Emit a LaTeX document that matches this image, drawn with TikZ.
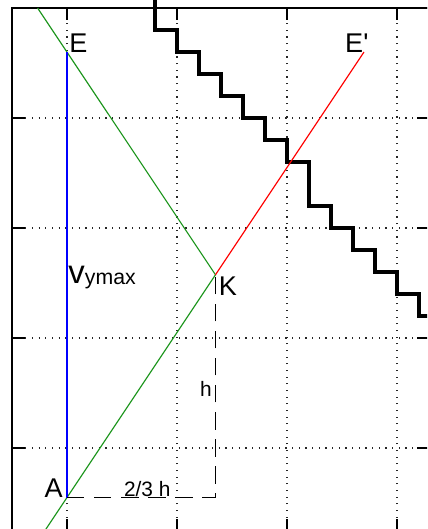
\documentclass[tikz,border=0pt]{standalone}
\usepackage{fontspec}
\setmainfont{Liberation Sans}
\definecolor{mygreen}{RGB}{30,150,30}
\begin{document}
\begin{tikzpicture}[x=2cm,y=2cm,line join=miter,
	gridline/.style={black!85,line width=0.6pt,dash pattern=on 0.6pt off 2.85pt},
	stairs/.style={line width=1.6pt},
	lbl/.style={inner sep=0pt,font=\fontsize{14}{16}\selectfont},
	smalllbl/.style={inner sep=0pt,font=\fontsize{10.8}{13}\selectfont}]
				\useasboundingbox (-0.609,-0.736) rectangle (3.273,4.073);
				\clip (-0.609,-0.736) rectangle (3.273,4.073);
				\foreach \x in {0,...,3}
				\draw[gridline] (\x,-0.755)--(\x,4);
				\foreach \y in {0,...,3}
				\draw[gridline] (-0.5,\y)--(3.3,\y);
				\draw[line width=1pt] (-0.5,-0.755) rectangle (3.3,4);
				\foreach \x in {0,...,3}{
				\draw[line width=1pt] (\x,4)--++(0,-0.11);
				\draw[line width=1pt] (\x,-0.755)--++(0,0.11);}
				\foreach \y in {0,...,4}{
				\draw[line width=1pt] (-0.5,\y)--++(0.12,0);
				\draw[line width=1pt] (3.3,\y)--++(-0.12,0);}
				\coordinate (A) at (0,-0.45);
				\coordinate (E) at (0,3.6);
				\coordinate (K) at (1.35,1.575);
				\coordinate (Ep) at (2.7,3.6);
				\coordinate (Etop) at (-0.267,4);
				\coordinate (Abot) at (-0.2,-0.75);
				\draw[stairs] (0.8,4.1)--(0.8,3.8)--(1,3.8)--(1,3.6)--(1.2,3.6)--(1.2,3.4)--(1.4,3.4)--(1.4,3.2)--(1.6,3.2)--(1.6,3)--(1.8,3)--(1.8,2.8)--(2,2.8)--(2,2.6)--(2.2,2.6)--(2.2,2.2)--(2.4,2.2)--(2.4,2)--(2.6,2)--(2.6,1.8)--(2.8,1.8)--(2.8,1.6)--(3,1.6)--(3,1.4)--(3.2,1.4)--(3.2,1.2)--(3.4,1.2);
				\draw[mygreen,line width=0.6pt] (Etop)--(K)--(Abot);
				\draw[red,line width=0.6pt] (K)--(Ep);
				\draw[blue,line width=1pt] (A)--(E);
				\draw[line width=0.8pt,dash pattern=on 9pt off 5pt] (A)--(A-|K)--(K);
				\node[lbl,anchor=base west] (lE) at ([xshift=1pt]E) {E};
				\node[lbl,anchor=base east] (lEp) at ([xshift=2.5pt]Ep) {E\textquotesingle};
				\node[lbl,anchor=north west] (lK) at ([xshift=1.5pt,yshift=-1pt]K) {K};
				\node[lbl,anchor=base east] (lA) at ([xshift=-2pt]A) {A};
				\node[inner sep=0pt,anchor=base west] (lv) at (0.01,1.5) {\fontsize{17}{20}\selectfont v\fontsize{11}{13}\selectfont\raisebox{-0.6pt}{ymax}};
				\node[smalllbl,anchor=base east] (lh) at (1.32,0.464) {h};
				\node[smalllbl,anchor=base] (lhh) at (0.73,-0.44) {2/3 h};
			\end{tikzpicture}
\end{document}
